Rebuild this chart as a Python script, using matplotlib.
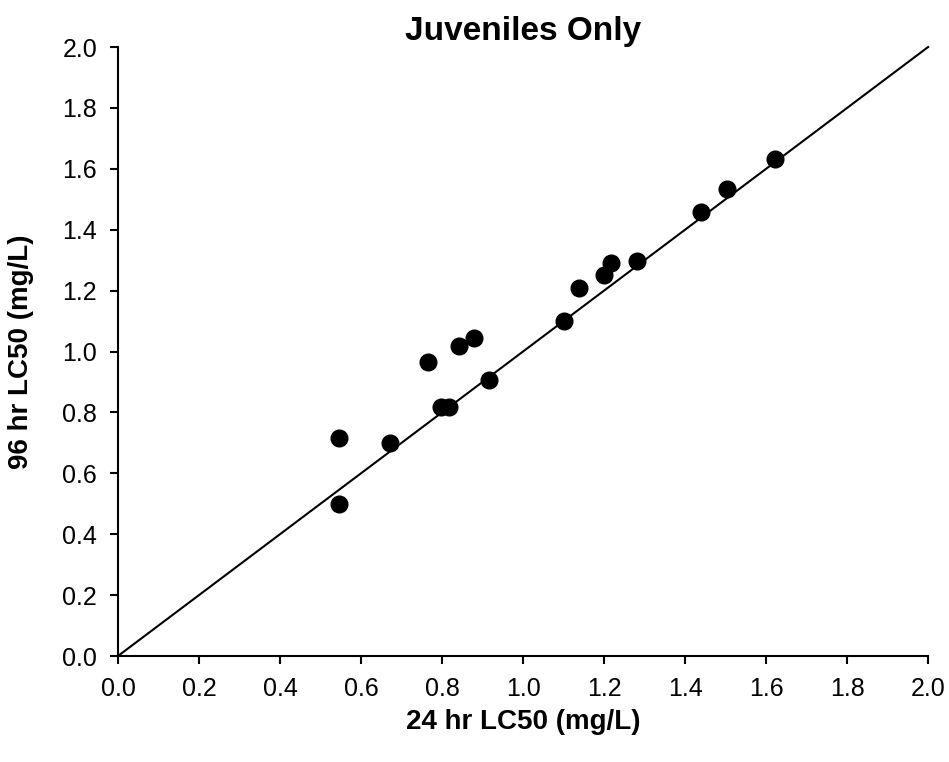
import numpy as np
import matplotlib
matplotlib.use("Agg")
import matplotlib.pyplot as plt

# ---- data -----------------------------------------------------------------
lc50_24hr = [0.545, 0.545, 0.672, 0.766, 0.797, 0.817, 0.841, 0.878, 0.916,
             1.100, 1.138, 1.199, 1.218, 1.281, 1.439, 1.503, 1.621]
lc50_96hr = [0.716, 0.498, 0.699, 0.966, 0.817, 0.817, 1.017, 1.044, 0.907,
             1.099, 1.209, 1.250, 1.290, 1.298, 1.458, 1.533, 1.632]
one_to_one = [0.0, 2.0]
ticks = [0.0, 0.2, 0.4, 0.6, 0.8, 1.0, 1.2, 1.4, 1.6, 1.8, 2.0]

plt.rcParams['font.family'] = ['Liberation Sans', 'DejaVu Sans']

fig = plt.figure(figsize=(9.49, 7.62), dpi=100)
ax = fig.add_axes([0.1243, 0.1391, 0.8537, 0.7992])

ax.plot(one_to_one, one_to_one, color='black', linewidth=1.5, clip_on=False)
ax.plot(lc50_24hr, lc50_96hr, linestyle='none', marker='o', markersize=12,
        color='black', clip_on=False)

ax.set_xlim(0, 2.0)
ax.set_ylim(0, 2.0)
ax.set_xticks(ticks)
ax.set_yticks(ticks)
ax.set_xticklabels(['%.1f' % t for t in ticks])
ax.set_yticklabels(['%.1f' % t for t in ticks])
ax.tick_params(direction='out', length=6, width=1.5, labelsize=18)
ax.tick_params(axis='x', pad=9)
ax.tick_params(axis='y', pad=9)

for side in ['top', 'right']:
    ax.spines[side].set_visible(False)
for side in ['left', 'bottom']:
    ax.spines[side].set_linewidth(1.5)

ax.set_title('Juveniles Only', fontsize=24, fontweight='bold', pad=2)
ax.set_xlabel('24 hr LC50 (mg/L)', fontsize=20, fontweight='bold', labelpad=6)
ax.set_ylabel('96 hr LC50 (mg/L)', fontsize=20, fontweight='bold', labelpad=20)

fig.savefig('out.png', dpi=100)
